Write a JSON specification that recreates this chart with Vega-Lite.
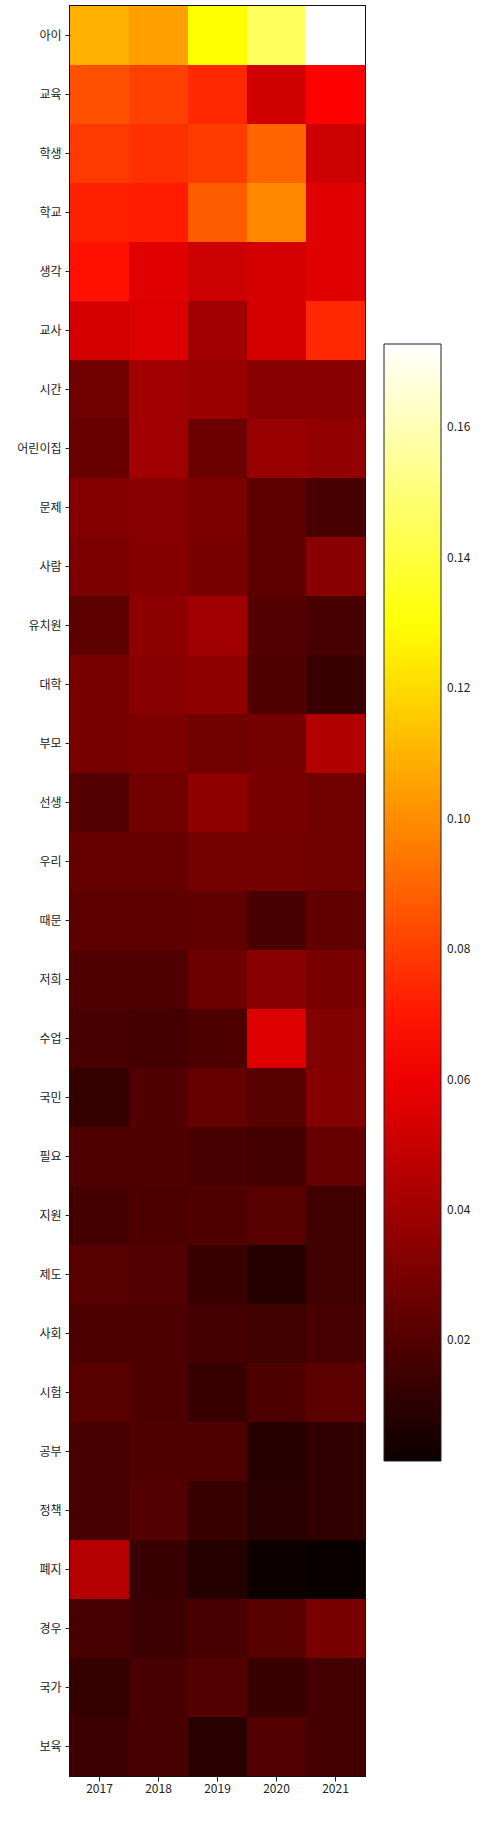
{
  "$schema": "https://vega.github.io/schema/vega-lite/v6.json",
  "autosize": {"type": "none"},
  "padding": {"left": 70, "top": 6, "right": 123, "bottom": 51},
  "width": 295,
  "height": 1770,
  "background": "white",
  "config": {
    "view": {"stroke": "#111", "strokeWidth": 2},
    "font": "Noto Sans CJK KR",
    "axis": {"labelFont": "Noto Sans CJK KR", "labelFontSize": 12, "labelColor": "#222", "tickColor": "#222", "domain": false, "grid": false, "title": null},
    "legend": {"labelFont": "Noto Sans CJK KR", "labelFontSize": 12, "labelColor": "#222"}
  },
  "data": {"values": [
    {"w":"아이","y":"2017","v":0.109},{"w":"아이","y":"2018","v":0.105},{"w":"아이","y":"2019","v":0.1293},{"w":"아이","y":"2020","v":0.1457},{"w":"아이","y":"2021","v":0.1728},
    {"w":"교육","y":"2017","v":0.0845},{"w":"교육","y":"2018","v":0.0804},{"w":"교육","y":"2019","v":0.0742},{"w":"교육","y":"2020","v":0.052},{"w":"교육","y":"2021","v":0.064},
    {"w":"학생","y":"2017","v":0.0785},{"w":"학생","y":"2018","v":0.0763},{"w":"학생","y":"2019","v":0.079},{"w":"학생","y":"2020","v":0.0896},{"w":"학생","y":"2021","v":0.051},
    {"w":"학교","y":"2017","v":0.0722},{"w":"학교","y":"2018","v":0.0712},{"w":"학교","y":"2019","v":0.0876},{"w":"학교","y":"2020","v":0.0988},{"w":"학교","y":"2021","v":0.0561},
    {"w":"생각","y":"2017","v":0.0681},{"w":"생각","y":"2018","v":0.0561},{"w":"생각","y":"2019","v":0.051},{"w":"생각","y":"2020","v":0.0531},{"w":"생각","y":"2021","v":0.0561},
    {"w":"교사","y":"2017","v":0.0531},{"w":"교사","y":"2018","v":0.0551},{"w":"교사","y":"2019","v":0.0397},{"w":"교사","y":"2020","v":0.0531},{"w":"교사","y":"2021","v":0.0742},
    {"w":"시간","y":"2017","v":0.0275},{"w":"시간","y":"2018","v":0.0397},{"w":"시간","y":"2019","v":0.0377},{"w":"시간","y":"2020","v":0.0336},{"w":"시간","y":"2021","v":0.0336},
    {"w":"어린이집","y":"2017","v":0.0254},{"w":"어린이집","y":"2018","v":0.0397},{"w":"어린이집","y":"2019","v":0.0264},{"w":"어린이집","y":"2020","v":0.0377},{"w":"어린이집","y":"2021","v":0.0362},
    {"w":"문제","y":"2017","v":0.0326},{"w":"문제","y":"2018","v":0.0336},{"w":"문제","y":"2019","v":0.0305},{"w":"문제","y":"2020","v":0.0223},{"w":"문제","y":"2021","v":0.0172},
    {"w":"사람","y":"2017","v":0.0305},{"w":"사람","y":"2018","v":0.0326},{"w":"사람","y":"2019","v":0.0295},{"w":"사람","y":"2020","v":0.0223},{"w":"사람","y":"2021","v":0.0336},
    {"w":"유치원","y":"2017","v":0.0223},{"w":"유치원","y":"2018","v":0.0346},{"w":"유치원","y":"2019","v":0.0397},{"w":"유치원","y":"2020","v":0.0203},{"w":"유치원","y":"2021","v":0.0172},
    {"w":"대학","y":"2017","v":0.0295},{"w":"대학","y":"2018","v":0.0336},{"w":"대학","y":"2019","v":0.0357},{"w":"대학","y":"2020","v":0.0193},{"w":"대학","y":"2021","v":0.0131},
    {"w":"부모","y":"2017","v":0.0295},{"w":"부모","y":"2018","v":0.0305},{"w":"부모","y":"2019","v":0.0275},{"w":"부모","y":"2020","v":0.0285},{"w":"부모","y":"2021","v":0.0438},
    {"w":"선생","y":"2017","v":0.0203},{"w":"선생","y":"2018","v":0.0275},{"w":"선생","y":"2019","v":0.0357},{"w":"선생","y":"2020","v":0.0295},{"w":"선생","y":"2021","v":0.0275},
    {"w":"우리","y":"2017","v":0.0244},{"w":"우리","y":"2018","v":0.0244},{"w":"우리","y":"2019","v":0.0285},{"w":"우리","y":"2020","v":0.0285},{"w":"우리","y":"2021","v":0.0275},
    {"w":"때문","y":"2017","v":0.0223},{"w":"때문","y":"2018","v":0.0223},{"w":"때문","y":"2019","v":0.0234},{"w":"때문","y":"2020","v":0.0172},{"w":"때문","y":"2021","v":0.0234},
    {"w":"저희","y":"2017","v":0.0193},{"w":"저희","y":"2018","v":0.0193},{"w":"저희","y":"2019","v":0.0264},{"w":"저희","y":"2020","v":0.0336},{"w":"저희","y":"2021","v":0.0295},
    {"w":"수업","y":"2017","v":0.0172},{"w":"수업","y":"2018","v":0.0162},{"w":"수업","y":"2019","v":0.0182},{"w":"수업","y":"2020","v":0.0551},{"w":"수업","y":"2021","v":0.0316},
    {"w":"국민","y":"2017","v":0.0121},{"w":"국민","y":"2018","v":0.0193},{"w":"국민","y":"2019","v":0.0244},{"w":"국민","y":"2020","v":0.0213},{"w":"국민","y":"2021","v":0.0326},
    {"w":"필요","y":"2017","v":0.0193},{"w":"필요","y":"2018","v":0.0193},{"w":"필요","y":"2019","v":0.0172},{"w":"필요","y":"2020","v":0.0162},{"w":"필요","y":"2021","v":0.0244},
    {"w":"지원","y":"2017","v":0.0162},{"w":"지원","y":"2018","v":0.0182},{"w":"지원","y":"2019","v":0.0193},{"w":"지원","y":"2020","v":0.0213},{"w":"지원","y":"2021","v":0.0152},
    {"w":"제도","y":"2017","v":0.0213},{"w":"제도","y":"2018","v":0.0203},{"w":"제도","y":"2019","v":0.0131},{"w":"제도","y":"2020","v":0.008},{"w":"제도","y":"2021","v":0.0152},
    {"w":"사회","y":"2017","v":0.0182},{"w":"사회","y":"2018","v":0.0182},{"w":"사회","y":"2019","v":0.0162},{"w":"사회","y":"2020","v":0.0152},{"w":"사회","y":"2021","v":0.0172},
    {"w":"시험","y":"2017","v":0.0213},{"w":"시험","y":"2018","v":0.0182},{"w":"시험","y":"2019","v":0.0131},{"w":"시험","y":"2020","v":0.0182},{"w":"시험","y":"2021","v":0.0223},
    {"w":"공부","y":"2017","v":0.0172},{"w":"공부","y":"2018","v":0.0193},{"w":"공부","y":"2019","v":0.0193},{"w":"공부","y":"2020","v":0.008},{"w":"공부","y":"2021","v":0.0111},
    {"w":"정책","y":"2017","v":0.0172},{"w":"정책","y":"2018","v":0.0203},{"w":"정책","y":"2019","v":0.0131},{"w":"정책","y":"2020","v":0.009},{"w":"정책","y":"2021","v":0.0111},
    {"w":"폐지","y":"2017","v":0.0449},{"w":"폐지","y":"2018","v":0.0131},{"w":"폐지","y":"2019","v":0.008},{"w":"폐지","y":"2020","v":0.0019},{"w":"폐지","y":"2021","v":0.0015},
    {"w":"경우","y":"2017","v":0.0172},{"w":"경우","y":"2018","v":0.0141},{"w":"경우","y":"2019","v":0.0172},{"w":"경우","y":"2020","v":0.0213},{"w":"경우","y":"2021","v":0.0295},
    {"w":"국가","y":"2017","v":0.0121},{"w":"국가","y":"2018","v":0.0172},{"w":"국가","y":"2019","v":0.0203},{"w":"국가","y":"2020","v":0.0131},{"w":"국가","y":"2021","v":0.0162},
    {"w":"보육","y":"2017","v":0.0141},{"w":"보육","y":"2018","v":0.0172},{"w":"보육","y":"2019","v":0.009},{"w":"보육","y":"2020","v":0.0203},{"w":"보육","y":"2021","v":0.0162}
  ]},
  "mark": {"type": "rect", "strokeWidth": 0},
  "encoding": {
    "x": {"field": "y", "type": "ordinal", "sort": null, "scale": {"paddingInner": 0, "paddingOuter": 0},
      "axis": {"labelAngle": 0, "tickSize": 5, "labelPadding": 2}},
    "y": {"field": "w", "type": "ordinal", "sort": null, "scale": {"paddingInner": 0, "paddingOuter": 0},
      "axis": {"tickSize": 5, "labelPadding": 4}},
    "color": {"field": "v", "type": "quantitative",
      "scale": {"type": "linear", "domain": [0.0015, 0.064, 0.1293, 0.1728], "range": ["#0b0000", "#ff0000", "#ffff00", "#ffffff"], "interpolate": "rgb", "clamp": true},
      "legend": {"type": "gradient", "title": null, "orient": "none", "legendX": 314, "legendY": 338, "direction": "vertical",
        "gradientLength": 1117, "gradientThickness": 57, "gradientStrokeColor": "#222", "gradientStrokeWidth": 1,
        "values": [0.02, 0.04, 0.06, 0.08, 0.1, 0.12, 0.14, 0.16], "format": ".2f", "labelOffset": 6, "labelOverlap": false, "padding": 0}
    }
  }
}
